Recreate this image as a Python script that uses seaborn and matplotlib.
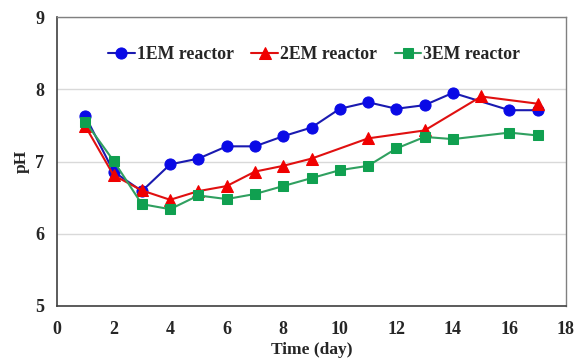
import matplotlib
matplotlib.use("Agg")
import matplotlib.pyplot as plt
import seaborn as sns
import pandas as pd

days_1 = [1, 2, 3, 4, 5, 6, 7, 8, 9, 10, 11, 12, 13, 14, 16, 17]
ph_1 = [7.63, 6.86, 6.59, 6.96, 7.04, 7.21, 7.21, 7.35, 7.47, 7.73, 7.82, 7.73, 7.78, 7.95, 7.71, 7.71]
days_2 = [1, 2, 3, 4, 5, 6, 7, 8, 9, 11, 13, 15, 17]
ph_2 = [7.49, 6.81, 6.60, 6.47, 6.59, 6.66, 6.86, 6.94, 7.04, 7.32, 7.43, 7.90, 7.80]
days_3 = [1, 2, 3, 4, 5, 6, 7, 8, 9, 10, 11, 12, 13, 14, 16, 17]
ph_3 = [7.55, 7.01, 6.41, 6.34, 6.53, 6.48, 6.55, 6.66, 6.77, 6.88, 6.94, 7.18, 7.34, 7.31, 7.40, 7.36]
labels = ["1EM reactor", "2EM reactor", "3EM reactor"]

sns.set_style("white")
plt.rcParams["font.family"] = ["Liberation Serif", "DejaVu Serif"]
plt.rcParams["font.weight"] = "bold"

fig = plt.figure(figsize=(5.79, 3.60), dpi=100)
ax = fig.add_axes([57/579, 1 - 306/360, (566-57)/579, (306-17)/360])

series = [
    (days_1, ph_1, labels[0], "#0A0AE6", "#1A1AB0", "o", 8),
    (days_2, ph_2, labels[1], "#F00000", "#E01010", "^", 8),
    (days_3, ph_3, labels[2], "#10A050", "#30A060", "s", 7.5),
]
for d, v, lab, mc, lc, mk, ms in series:
    df = pd.DataFrame({"day": d, "pH": v})
    sns.lineplot(data=df, x="day", y="pH", ax=ax, color=lc, marker=mk,
                 markersize=ms, markerfacecolor=mc, markeredgecolor=mc,
                 linewidth=1.5, label=lab)

ax.set_xlim(0, 18)
ax.set_ylim(5, 9)
ax.set_xticks(range(0, 19, 2))
ax.set_yticks([5, 6, 7, 8, 9])
ax.yaxis.grid(True, color="#D9D9D9", linewidth=1)
ax.set_axisbelow(True)
ax.tick_params(axis="x", direction="in", length=5, width=1, labelsize=13, pad=11, color="#404040")
ax.tick_params(axis="y", direction="out", length=5, width=1, labelsize=13, pad=4, color="#404040")
for lab in ax.get_xticklabels() + ax.get_yticklabels():
    lab.set_fontweight("bold")
for s in ["left", "bottom"]:
    ax.spines[s].set_color("#404040")
    ax.spines[s].set_linewidth(1.2)
for s in ["top", "right"]:
    ax.spines[s].set_color("#808080")
    ax.spines[s].set_linewidth(1.0)
ax.set_xlabel("Time (day)", fontsize=12.5, fontweight="bold", labelpad=3)
ax.set_ylabel("pH", fontsize=12.5, fontweight="bold", labelpad=4)

leg = ax.legend(loc="upper center", bbox_to_anchor=(0.505, 0.955), ncol=3, frameon=False,
                handlelength=1.5, handletextpad=0.1, columnspacing=1.0,
                prop={"size": 12.8, "weight": "bold"})

fig.savefig("out.png", dpi=100)
